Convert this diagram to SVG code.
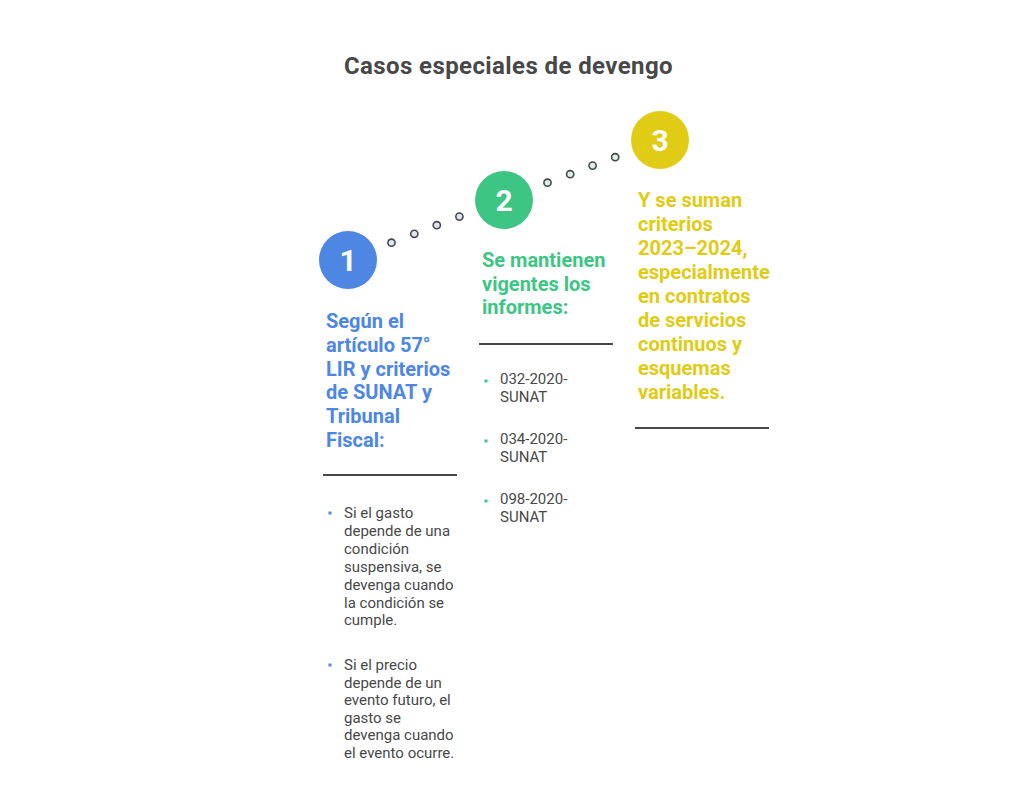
<svg xmlns="http://www.w3.org/2000/svg" width="1020" height="806" viewBox="0 0 1020 806">
<style>
.title{font-family:Roboto,"Liberation Sans",sans-serif;font-weight:700;font-size:24px;fill:#484848;letter-spacing:0.4px}
.num{font-family:Roboto,"Liberation Sans",sans-serif;font-weight:700;font-size:30px;fill:#ffffff;text-anchor:middle}
.head{font-family:Roboto,"Liberation Sans",sans-serif;font-weight:700;font-size:20px}
.body{font-family:Roboto,"Liberation Sans",sans-serif;font-size:15px;fill:#484848}
.rule{stroke:#484848;stroke-width:2}
.dot{stroke:#484848;stroke-width:1.6}
.blue{fill:#4E86E4}.green{fill:#3DC584}.yellow{fill:#E0CB15}
</style>
<rect width="1020" height="806" fill="#ffffff"/>
<text class="title" x="508.5" y="73.5" text-anchor="middle">Casos especiales de devengo</text>
<g id="connectors">
<circle class="dot" cx="391.5" cy="242.7" r="3.6" fill="#DCE6F8"/>
<circle class="dot" cx="414.3" cy="233.8" r="3.6" fill="#DCE6F8"/>
<circle class="dot" cx="436.8" cy="225.2" r="3.6" fill="#DCE6F8"/>
<circle class="dot" cx="459.4" cy="216.6" r="3.6" fill="#DCE6F8"/>
<circle class="dot" cx="547.5" cy="182.7" r="3.6" fill="#D8F3E6"/>
<circle class="dot" cx="570.2" cy="174.2" r="3.6" fill="#D8F3E6"/>
<circle class="dot" cx="592.6" cy="165.6" r="3.6" fill="#D8F3E6"/>
<circle class="dot" cx="615.2" cy="157.2" r="3.6" fill="#D8F3E6"/>
</g>
<g id="step1">
<circle class="blue" cx="348" cy="260" r="29"/>
<text class="num" x="348" y="270.5">1</text>
<text class="head blue"><tspan x="326" y="328">Según el</tspan><tspan x="326" y="351.8">artículo 57°</tspan><tspan x="326" y="375.6">LIR y criterios</tspan><tspan x="326" y="399.4">de SUNAT y</tspan><tspan x="326" y="423.2">Tribunal</tspan><tspan x="326" y="447">Fiscal:</tspan></text>
<line class="rule" x1="323" y1="475" x2="457" y2="475"/>
<rect class="blue" x="328.5" y="511.5" width="3" height="3"/>
<text class="body"><tspan x="344" y="518">Si el gasto</tspan><tspan x="344" y="535.9">depende de una</tspan><tspan x="344" y="553.8">condición</tspan><tspan x="344" y="571.7">suspensiva, se</tspan><tspan x="344" y="589.6">devenga cuando</tspan><tspan x="344" y="607.5">la condición se</tspan><tspan x="344" y="625.4">cumple.</tspan></text>
<rect class="blue" x="328.5" y="663.5" width="3" height="3"/>
<text class="body"><tspan x="344" y="670">Si el precio</tspan><tspan x="344" y="687.5">depende de un</tspan><tspan x="344" y="705">evento futuro, el</tspan><tspan x="344" y="722.5">gasto se</tspan><tspan x="344" y="740">devenga cuando</tspan><tspan x="344" y="757.5">el evento ocurre.</tspan></text>
</g>
<g id="step2">
<circle class="green" cx="504" cy="200" r="29"/>
<text class="num" x="504" y="210.5">2</text>
<text class="head green"><tspan x="482" y="266.7">Se mantienen</tspan><tspan x="482" y="290.5">vigentes los</tspan><tspan x="482" y="314.3">informes:</tspan></text>
<line class="rule" x1="479" y1="344" x2="613" y2="344"/>
<rect class="green" x="484.5" y="379.5" width="3" height="3"/>
<text class="body"><tspan x="500" y="384">032-2020-</tspan><tspan x="500" y="402">SUNAT</tspan></text>
<rect class="green" x="484.5" y="439.5" width="3" height="3"/>
<text class="body"><tspan x="500" y="444">034-2020-</tspan><tspan x="500" y="462">SUNAT</tspan></text>
<rect class="green" x="484.5" y="499.5" width="3" height="3"/>
<text class="body"><tspan x="500" y="504">098-2020-</tspan><tspan x="500" y="522">SUNAT</tspan></text>
</g>
<g id="step3">
<circle class="yellow" cx="660" cy="140" r="29"/>
<text class="num" x="660" y="150.5">3</text>
<text class="head yellow"><tspan x="638" y="206.5">Y se suman</tspan><tspan x="638" y="230.5">criterios</tspan><tspan x="638" y="254.5">2023–2024,</tspan><tspan x="638" y="278.5">especialmente</tspan><tspan x="638" y="302.5">en contratos</tspan><tspan x="638" y="326.5">de servicios</tspan><tspan x="638" y="350.5">continuos y</tspan><tspan x="638" y="374.5">esquemas</tspan><tspan x="638" y="398.5">variables.</tspan></text>
<line class="rule" x1="635" y1="428" x2="769" y2="428"/>
</g>
</svg>
